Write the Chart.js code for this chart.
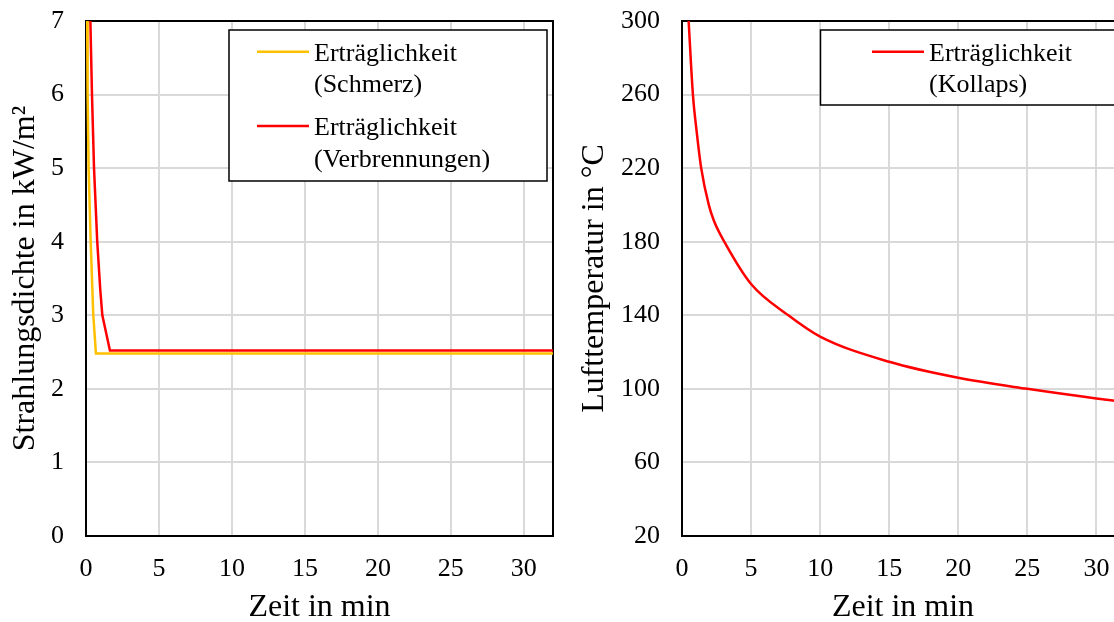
<!DOCTYPE html>
<html lang="de">
<head>
<meta charset="utf-8">
<title>Erträglichkeit</title>
<script src="https://cdn.jsdelivr.net/npm/chart.js@4.4.1/dist/chart.umd.min.js"></script>
<style>
  html, body { margin: 0; padding: 0; background: #fff; overflow: hidden; width: 1114px; height: 622px; }
  canvas { position: absolute; top: 0; }
  #links { left: 0; }
  #rechts { left: 557px; }
</style>
</head>
<body>
<canvas id="links" width="557" height="622"></canvas>
<canvas id="rechts" width="600" height="622"></canvas>
<script>
// Werte (Zeit in min)
const zeitSchmerz = [0.08, 0.11, 0.18, 0.32, 0.50, 0.68, 32];
const wertSchmerz = [7.0, 6.0, 5.0, 4.0, 3.0, 2.48, 2.48];

const zeitVerbrennung = [0.30, 0.41, 0.55, 0.77, 0.98, 1.12, 1.64, 32];
const wertVerbrennung = [7.0, 6.0, 5.0, 4.0, 3.34, 3.0, 2.52, 2.52];

const zeitKollaps = [0.48, 0.79, 1.06, 1.39, 1.94, 2.31, 3.1, 5, 7.7, 10, 15, 20, 25, 30, 32];
const wertKollaps = [300, 260, 240, 220, 200, 191.4, 179.5, 157, 140, 128.4, 114.7, 106, 100, 94.8, 93];

const xTicks = [0, 5, 10, 15, 20, 25, 30];
const yTicksLinks = [0, 1, 2, 3, 4, 5, 6, 7];
const yTicksRechts = [20, 60, 100, 140, 180, 220, 260, 300];

const labelsLinks = [["Erträglichkeit", "(Schmerz)"], ["Erträglichkeit", "(Verbrennungen)"]];
const labelsRechts = [["Erträglichkeit", "(Kollaps)"]];

const xTitel = "Zeit in min";
const yTitelLinks = "Strahlungsdichte in kW/m²";
const yTitelRechts = "Lufttemperatur in °C";

const SCHRIFT = '"Liberation Serif", "Times New Roman", serif';

function punkte(xs, ys) {
  return xs.map((x, i) => ({ x: x, y: ys[i] }));
}

// Rahmen um die Zeichenfläche
const rahmen = {
  id: 'rahmen',
  beforeDatasetsDraw(chart) {
    const { ctx, chartArea: a } = chart;
    ctx.save();
    ctx.strokeStyle = '#000';
    ctx.lineWidth = 2;
    ctx.strokeRect(a.left, a.top, a.right - a.left, a.bottom - a.top);
    ctx.restore();
  }
};

// Legende mit Kasten, wie in Excel
const kastenLegende = {
  id: 'kastenLegende',
  afterDraw(chart, args, o) {
    const ctx = chart.ctx;
    ctx.save();
    ctx.fillStyle = '#fff';
    ctx.fillRect(o.x, o.y, o.w, o.h);
    ctx.strokeStyle = '#000';
    ctx.lineWidth = 1.5;
    ctx.strokeRect(o.x, o.y, o.w, o.h);
    ctx.font = '26px ' + SCHRIFT;
    ctx.textBaseline = 'alphabetic';
    ctx.textAlign = 'left';
    chart.data.datasets.forEach((ds, i) => {
      const basis = o.baselines[i];
      ctx.strokeStyle = ds.borderColor;
      ctx.lineWidth = ds.borderWidth;
      ctx.beginPath();
      ctx.moveTo(o.lineX1, basis[0] - 9);
      ctx.lineTo(o.lineX2, basis[0] - 9);
      ctx.stroke();
      ctx.fillStyle = '#000';
      o.texte[i].forEach((zeile, j) => ctx.fillText(zeile, o.textX, basis[j]));
    });
    ctx.restore();
  }
};

function achsen(yMin, yMax, yTicks, yTitel, yBreite, titelAbstand) {
  return {
    x: {
      type: 'linear',
      min: 0,
      max: 32,
      afterBuildTicks: s => { s.ticks = xTicks.map(v => ({ value: v })); },
      afterFit: s => { s.height = 86; s.paddingLeft = 0; s.paddingRight = 0; },
      grid: { color: '#d9d9d9', lineWidth: 2, drawTicks: false },
      border: { display: false },
      ticks: { color: '#000', padding: 18, font: { family: SCHRIFT, size: 26 }, maxRotation: 0 },
      title: { display: true, text: xTitel, color: '#000', padding: 0,
               font: { family: SCHRIFT, size: 32, lineHeight: 0.9 } }
    },
    y: {
      type: 'linear',
      min: yMin,
      max: yMax,
      afterBuildTicks: s => { s.ticks = yTicks.map(v => ({ value: v })); },
      afterFit: s => { s.width = yBreite; s.paddingTop = 0; s.paddingBottom = 0; },
      grid: { color: '#d9d9d9', lineWidth: 2, drawTicks: false },
      border: { display: false },
      ticks: { color: '#000', padding: 22, font: { family: SCHRIFT, size: 26 } },
      title: { display: true, text: yTitel, color: '#000', padding: { top: titelAbstand, bottom: 0 },
               font: { family: SCHRIFT, size: 32, lineHeight: 1.2 } }
    }
  };
}

new Chart(document.getElementById('links'), {
  type: 'line',
  data: {
    datasets: [
      { label: labelsLinks[0].join(' '), data: punkte(zeitSchmerz, wertSchmerz),
        borderColor: '#FFC000', borderWidth: 2.5, pointRadius: 0, tension: 0 },
      { label: labelsLinks[1].join(' '), data: punkte(zeitVerbrennung, wertVerbrennung),
        borderColor: '#FF0000', borderWidth: 2.5, pointRadius: 0, tension: 0 }
    ]
  },
  options: {
    responsive: false,
    animation: false,
    layout: { padding: { left: 0, right: 4, top: 21, bottom: 0 } },
    scales: achsen(0, 7, yTicksLinks, yTitelLinks, 86, 6),
    plugins: {
      legend: { display: false },
      tooltip: { enabled: false },
      kastenLegende: {
        x: 229, y: 30, w: 318, h: 151,
        lineX1: 257, lineX2: 309, textX: 314,
        baselines: [[60.7, 91.7], [135, 166.7]],
        texte: labelsLinks
      }
    }
  },
  plugins: [rahmen, kastenLegende]
});

new Chart(document.getElementById('rechts'), {
  type: 'line',
  data: {
    datasets: [
      { label: labelsRechts[0].join(' '), data: punkte(zeitKollaps, wertKollaps),
        borderColor: '#FF0000', borderWidth: 2.5, pointRadius: 0, cubicInterpolationMode: 'monotone' }
    ]
  },
  options: {
    responsive: false,
    animation: false,
    layout: { padding: { left: 0, right: 33, top: 21, bottom: 0 } },
    scales: achsen(20, 300, yTicksRechts, yTitelRechts, 125, 18),
    plugins: {
      legend: { display: false },
      tooltip: { enabled: false },
      kastenLegende: {
        x: 263.5, y: 30, w: 297.5, h: 75,
        lineX1: 315, lineX2: 367, textX: 372,
        baselines: [[60.7, 91.7]],
        texte: labelsRechts
      }
    }
  },
  plugins: [rahmen, kastenLegende]
});
</script>
</body>
</html>
